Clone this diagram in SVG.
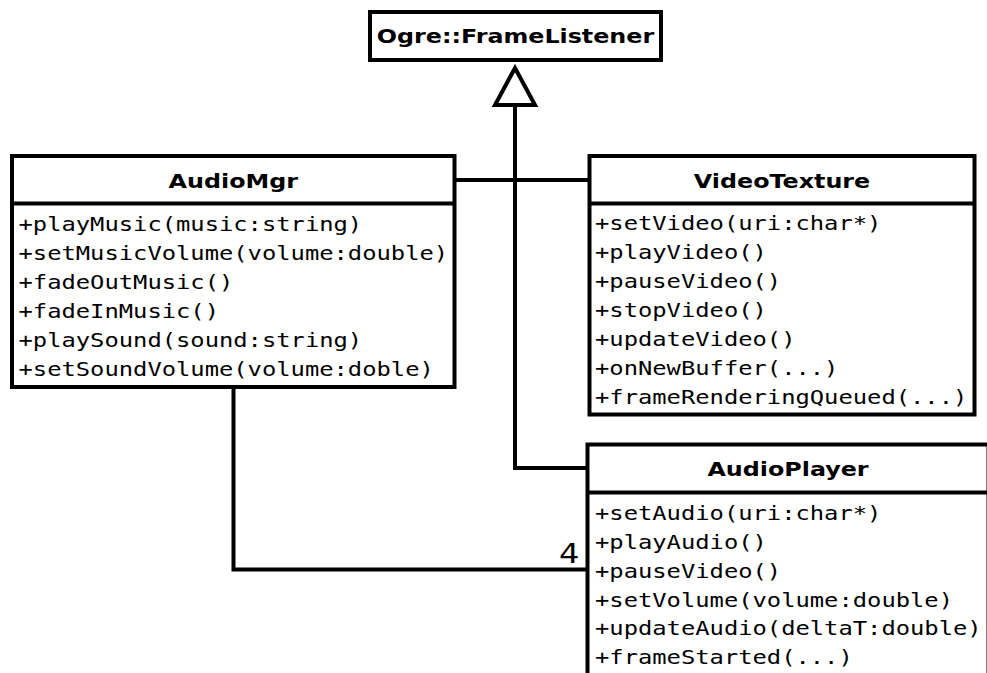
<svg xmlns="http://www.w3.org/2000/svg" width="987" height="673" viewBox="0 0 987 673">
  <style>
    .box { fill: #ffffff; stroke: #000000; stroke-width: 4; }
    .edge { fill: none; stroke: #000000; stroke-width: 4; }
    .title { font-family: "DejaVu Sans", "Liberation Sans", sans-serif; font-weight: bold; font-size: 20px; fill: #000000; text-anchor: middle; }
    .op { font-family: "DejaVu Sans Mono", "Liberation Mono", monospace; font-size: 20px; fill: #000000; }
    .mult { font-family: "DejaVu Sans", "Liberation Sans", sans-serif; font-size: 27px; fill: #000000; text-anchor: end; }
  </style>
  <rect x="0" y="0" width="987" height="673" fill="#ffffff"/>

  <!-- connectors -->
  <g id="connectors">
    <!-- AudioMgr to VideoTexture association -->
    <line class="edge" x1="454.5" y1="180" x2="589.5" y2="180"/>
    <!-- AudioPlayer generalization to Ogre::FrameListener -->
    <polyline class="edge" points="587.5,468 515,468 515,105"/>
    <polygon class="box" points="515,68 495,105 535,105"/>
    <!-- AudioMgr to AudioPlayer association with multiplicity -->
    <polyline class="edge" points="233.5,387 233.5,569.5 587.5,569.5"/>
    <g transform="matrix(1.19 0 0 1 579.5 0)">
      <text class="mult" x="0" y="563">4</text>
    </g>
  </g>

  <!-- Ogre::FrameListener -->
  <g id="frame-listener">
    <rect class="box" x="370" y="12" width="291" height="48"/>
    <g transform="matrix(1.19 0 0 1 515.5 0)">
      <text class="title" x="0" y="43">Ogre::FrameListener</text>
    </g>
  </g>

  <!-- AudioMgr -->
  <g id="audio-mgr">
    <rect class="box" x="12" y="156" width="442.5" height="231"/>
    <line class="edge" x1="12" y1="203.5" x2="454.5" y2="203.5"/>
    <g transform="matrix(1.19 0 0 1 233.25 0)">
      <text class="title" x="0" y="188">AudioMgr</text>
    </g>
    <g transform="matrix(1.19 0 0 1 18.5 0)">
      <text class="op" x="0" y="231">+playMusic(music:string)</text>
      <text class="op" x="0" y="260">+setMusicVolume(volume:double)</text>
      <text class="op" x="0" y="289">+fadeOutMusic()</text>
      <text class="op" x="0" y="318">+fadeInMusic()</text>
      <text class="op" x="0" y="347">+playSound(sound:string)</text>
      <text class="op" x="0" y="376">+setSoundVolume(volume:doble)</text>
    </g>
  </g>

  <!-- VideoTexture -->
  <g id="video-texture">
    <rect class="box" x="589.5" y="156" width="385" height="258.5"/>
    <line class="edge" x1="589.5" y1="203.5" x2="974.5" y2="203.5"/>
    <g transform="matrix(1.19 0 0 1 782 0)">
      <text class="title" x="0" y="188">VideoTexture</text>
    </g>
    <g transform="matrix(1.19 0 0 1 595 0)">
      <text class="op" x="0" y="230">+setVideo(uri:char*)</text>
      <text class="op" x="0" y="259">+playVideo()</text>
      <text class="op" x="0" y="288">+pauseVideo()</text>
      <text class="op" x="0" y="317">+stopVideo()</text>
      <text class="op" x="0" y="346">+updateVideo()</text>
      <text class="op" x="0" y="375">+onNewBuffer(...)</text>
      <text class="op" x="0" y="404">+frameRenderingQueued(...)</text>
    </g>
  </g>

  <!-- AudioPlayer -->
  <g id="audio-player">
    <rect class="box" x="587.5" y="444.5" width="401" height="260"/>
    <line class="edge" x1="587.5" y1="492.5" x2="988.5" y2="492.5"/>
    <g transform="matrix(1.19 0 0 1 788 0)">
      <text class="title" x="0" y="476">AudioPlayer</text>
    </g>
    <g transform="matrix(1.19 0 0 1 595 0)">
      <text class="op" x="0" y="520">+setAudio(uri:char*)</text>
      <text class="op" x="0" y="549">+playAudio()</text>
      <text class="op" x="0" y="578">+pauseVideo()</text>
      <text class="op" x="0" y="607">+setVolume(volume:double)</text>
      <text class="op" x="0" y="635">+updateAudio(deltaT:double)</text>
      <text class="op" x="0" y="664">+frameStarted(...)</text>
    </g>
  </g>
</svg>
